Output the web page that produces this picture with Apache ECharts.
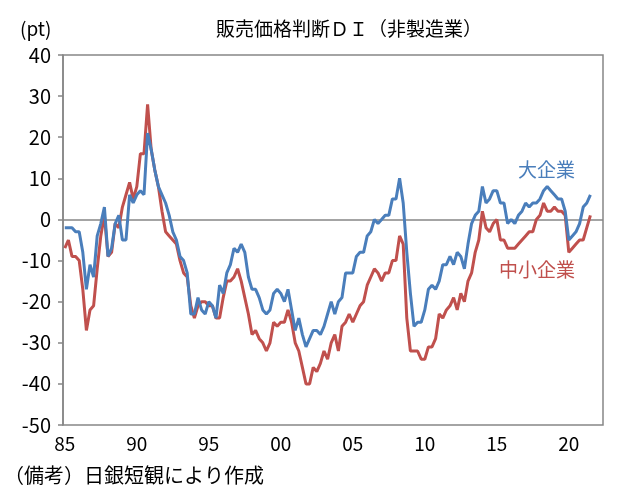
<!DOCTYPE html>
<html><head><meta charset="utf-8">
<script src="https://cdn.jsdelivr.net/npm/echarts@6/dist/echarts.min.js"></script>
<style>html,body{margin:0;padding:0;background:#fff}#c{width:618px;height:501px}</style>
</head><body><div id="c"></div>
<script>
// Quarterly data, 1985Q1 .. 2021Q3 (axis extends to 2022Q2)
const startYear = 1985;
const quarterCount = 150;
const xTickLabels = ['85','90','95','00','05','10','15','20'];
const yMin = -50, yMax = 40, yStep = 10;

const largeFirms = [
  -2,-2,-2,-3,-3,-8,-17,-11,-14,-4,
  -1,3,-9,-7,-1,1,-5,-5,6,4,
  6,7,6,21,17,12,8,6,4,1,
  -3,-5,-9,-10,-13,-23,-23,-19,-22,-23,
  -20,-21,-24,-16,-18,-13,-11,-7,-8,-6,
  -8,-14,-17,-17,-19,-22,-23,-22,-18,-17,
  -18,-20,-17,-22,-27,-24,-28,-31,-29,-27,
  -27,-28,-26,-23,-20,-23,-20,-19,-13,-13,
  -13,-9,-8,-8,-4,-3,0,-1,0,1,
  1,5,5,10,4,-8,-18,-26,-25,-25,
  -22,-17,-16,-17,-15,-11,-11,-9,-11,-8,
  -9,-12,-6,-1,1,2,8,4,5,7,
  7,4,4,-1,0,-1,1,2,4,3,
  4,4,5,7,8,7,6,5,5,2,
  -5,-4,-3,-1,3,4,6
];
const smallFirms = [
  -7,-5,-9,-9,-10,-17,-27,-22,-21,-12,
  -4,1,-9,-8,-1,-2,3,6,9,5,
  8,16,16,28,17,12,8,2,-3,-4,
  -5,-6,-10,-13,-14,-21,-24,-21,-20,-20,
  -21,-21,-24,-24,-19,-15,-15,-14,-12,-15,
  -19,-23,-28,-27,-29,-30,-32,-30,-25,-26,
  -25,-25,-22,-25,-30,-32,-36,-40,-40,-36,
  -37,-35,-32,-34,-30,-28,-32,-26,-25,-23,
  -25,-23,-21,-20,-16,-14,-12,-13,-15,-13,
  -13,-10,-10,-4,-6,-24,-32,-32,-32,-34,
  -34,-31,-31,-29,-23,-24,-22,-21,-19,-22,
  -18,-20,-15,-13,-8,-5,2,-2,-3,-1,
  0,-5,-5,-7,-7,-7,-6,-5,-4,-3,
  -3,0,1,4,2,2,3,2,2,1,
  -8,-7,-6,-5,-5,-2,1
];

const categories = [];
for (let i = 0; i < quarterCount; i++) {
  categories.push((startYear + Math.floor(i / 4)) + 'Q' + (i % 4 + 1));
}

const FONT = '"Noto Sans CJK JP", "Noto Sans", sans-serif';
const chart = echarts.init(document.getElementById('c'), null, {renderer: 'canvas'});
chart.setOption({
  animation: false,
  backgroundColor: '#fff',
  textStyle: {fontFamily: FONT},
  grid: {left: 63, right: 15, top: 55, bottom: 76, show: true, borderColor: '#868686', borderWidth: 1.5, containLabel: false},
  xAxis: {
    type: 'category', data: categories, boundaryGap: true,
    axisLine: {show: false, onZero: false},
    axisTick: {show: false},
    splitLine: {show: false},
    axisLabel: {
      interval: function (idx) { return idx % 20 === 0; },
      formatter: function (val, idx) { return xTickLabels[Math.round(idx / 20)] || ''; },
      fontSize: 19, color: '#000', margin: 9, fontFamily: FONT
    }
  },
  yAxis: {
    type: 'value', min: yMin, max: yMax, interval: yStep,
    axisLine: {show: true, lineStyle: {color: '#868686', width: 1.5}},
    axisTick: {show: true, inside: false, length: 5, lineStyle: {color: '#868686', width: 1.5}},
    splitLine: {show: false},
    axisLabel: {fontSize: 20, color: '#000', margin: 12, fontFamily: FONT}
  },
  series: [
    {
      name: '大企業', type: 'line', data: largeFirms, showSymbol: false, symbol: 'none',
      lineStyle: {color: '#4a7ebb', width: 3}, itemStyle: {color: '#4a7ebb'}, z: 3,
      markLine: {silent: true, symbol: 'none', label: {show: false},
        lineStyle: {color: '#868686', width: 1.5, type: 'solid'}, data: [{yAxis: 0}], z: 1}
    },
    {
      name: '中小企業', type: 'line', data: smallFirms, showSymbol: false, symbol: 'none',
      lineStyle: {color: '#c0504d', width: 3}, itemStyle: {color: '#c0504d'}, z: 2
    }
  ],
  graphic: [
    {type: 'text', left: 216, top: 19, style: {text: '販売価格判断ＤＩ（非製造業）', fill: '#000', font: '19px ' + FONT}},
    {type: 'text', left: 20, top: 19, style: {text: '(pt)', fill: '#000', font: '19px ' + FONT}},
    {type: 'text', left: 518, top: 160, style: {text: '大企業', fill: '#4a7ebb', font: '19px ' + FONT}},
    {type: 'text', left: 499, top: 260, style: {text: '中小企業', fill: '#c0504d', font: '19px ' + FONT}},
    {type: 'text', left: 4, top: 465, style: {text: '（備考）日銀短観により作成', fill: '#000', font: '20px ' + FONT}}
  ]
});
</script>
</body></html>
